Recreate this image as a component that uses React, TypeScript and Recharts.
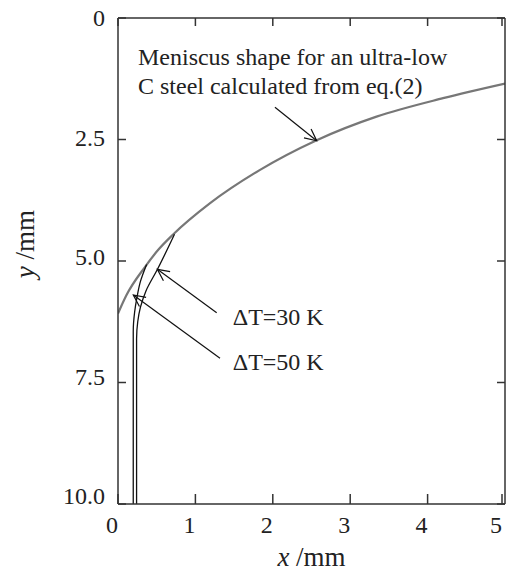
import React from 'react';
import { LineChart, Line, XAxis, YAxis, ReferenceLine, ReferenceDot, Label } from 'recharts';

const FONT = '"Liberation Serif", "Times New Roman", serif';

// Axis ticks
const X_TICKS = [0, 1, 2, 3, 4, 5];
const X_TICK_LABELS = ['0', '1', '2', '3', '4', '5'];
const Y_TICKS = [0, 2.5, 5, 7.5, 10];
const Y_TICK_LABELS = ['0', '2.5', '5.0', '7.5', '10.0'];

// Meniscus shape (eq.(2))
const MENISCUS_X = [0, 0.11, 0.35, 0.52, 0.715, 1.19, 1.83, 2.56, 3.34, 4.2, 5.0];
const MENISCUS_Y = [6.08, 5.7, 5.12, 4.77, 4.45, 3.81, 3.13, 2.52, 2.03, 1.65, 1.35];

// Solidified shell for ΔT = 30 K
const DT30_X = [0.73, 0.51, 0.36, 0.29, 0.255, 0.24, 0.24];
const DT30_Y = [4.45, 5.17, 5.62, 5.95, 6.25, 6.6, 10];

// Solidified shell for ΔT = 50 K
const DT50_X = [0.37, 0.29, 0.245, 0.215, 0.197, 0.197];
const DT50_Y = [5.07, 5.42, 5.75, 6.05, 6.45, 10];

// Annotations (data coordinates)
const NOTE_MENISCUS = ['Meniscus shape for an ultra-low', 'C steel calculated from eq.(2)'];
const NOTE_MENISCUS_POS = { x: 0.258, y: 0.967 };
const ARROW_MENISCUS = [{ x: 2.028, y: 1.837 }, { x: 2.567, y: 2.525 }];
const NOTE_DT30 = 'ΔT=30 K';
const NOTE_DT30_POS = { x: 1.482, y: 6.317 };
const ARROW_DT30 = [{ x: 1.275, y: 6.064 }, { x: 0.508, y: 5.171 }];
const NOTE_DT50 = 'ΔT=50 K';
const NOTE_DT50_POS = { x: 1.482, y: 7.253 };
const ARROW_DT50 = [{ x: 1.318, y: 7.002 }, { x: 0.198, y: 5.7 }];

const toPoints = (xs: number[], ys: number[]) => xs.map((x, i) => ({ x, y: ys[i] }));
const meniscus = toPoints(MENISCUS_X, MENISCUS_Y);
const dt30 = toPoints(DT30_X, DT30_Y);
const dt50 = toPoints(DT50_X, DT50_Y);

const FRAME = '#333';
const TEXT = '#222';

const BottomTick = (p: any) => {
  const { x, y, payload } = p;
  const label = X_TICK_LABELS[X_TICKS.indexOf(payload.value)];
  return (
    <g>
      <line x1={x} y1={y} x2={x} y2={y - 10} stroke={FRAME} strokeWidth={1.5} />
      <text x={x - 6} y={y + 29} textAnchor="middle" fontFamily={FONT} fontSize={24} fill={TEXT}>
        {label}
      </text>
    </g>
  );
};

const TopTick = (p: any) => {
  const { x, y } = p;
  return <line x1={x} y1={y} x2={x} y2={y + 8} stroke={FRAME} strokeWidth={1.5} />;
};

const LeftTick = (p: any) => {
  const { x, y, payload } = p;
  const label = Y_TICK_LABELS[Y_TICKS.indexOf(payload.value)];
  return (
    <g>
      <line x1={x} y1={y} x2={x + 8} y2={y} stroke={FRAME} strokeWidth={1.5} />
      <text x={x - 13} y={y + 8 - 0.8 * payload.value} textAnchor="end" fontFamily={FONT} fontSize={24} fill={TEXT}>
        {label}
      </text>
    </g>
  );
};

const RightTick = (p: any) => {
  const { x, y } = p;
  return <line x1={x} y1={y} x2={x - 8} y2={y} stroke={FRAME} strokeWidth={1.5} />;
};

const Arrow = (p: any) => {
  const { x1, y1, x2, y2 } = p;
  const ang = Math.atan2(y2 - y1, x2 - x1);
  const L = 13;
  const a = 0.45;
  const ax = x2 - L * Math.cos(ang - a);
  const ay = y2 - L * Math.sin(ang - a);
  const bx = x2 - L * Math.cos(ang + a);
  const by = y2 - L * Math.sin(ang + a);
  return (
    <g>
      <line x1={x1} y1={y1} x2={x2} y2={y2} stroke="#111" strokeWidth={1.2} />
      <polyline points={`${ax},${ay} ${x2},${y2} ${bx},${by}`} fill="none" stroke="#111" strokeWidth={1.2} />
    </g>
  );
};

const XTitle = (p: any) => {
  const vb = p.viewBox || { x: 118, y: 504, width: 387, height: 68 };
  return (
    <text x={vb.x + vb.width / 2} y={vb.y + 62} textAnchor="middle" fontFamily={FONT} fontSize={27} fill={TEXT}>
      <tspan fontStyle="italic">x</tspan> /mm
    </text>
  );
};

const YTitle = (p: any) => {
  const vb = p.viewBox || { x: 0, y: 18, width: 118, height: 486 };
  const cx = vb.x + 34;
  const cy = vb.y + vb.height / 2 - 17;
  return (
    <text x={cx} y={cy} transform={`rotate(-90 ${cx} ${cy})`} textAnchor="middle" fontFamily={FONT} fontSize={27} fill={TEXT}>
      <tspan fontStyle="italic">y</tspan> /mm
    </text>
  );
};

export default function App() {
  return (
    <div style={{ width: 506, height: 572 }}>
      <style>{'html,body{margin:0;padding:0;overflow:hidden}'}</style>
      <LineChart width={506} height={572} margin={{ top: 17, right: 0, bottom: 0, left: 0 }}>
        <XAxis
          xAxisId="bottom"
          type="number"
          dataKey="x"
          domain={[0, 5]}
          ticks={X_TICKS}
          allowDataOverflow
          height={68}
          tickSize={0}
          tickMargin={0}
          tickLine={false}
          tick={<BottomTick />}
          axisLine={{ stroke: FRAME, strokeWidth: 1.5 }}
        >
          <Label content={<XTitle />} />
        </XAxis>
        <XAxis
          xAxisId="top"
          orientation="top"
          type="number"
          dataKey="x"
          domain={[0, 5]}
          ticks={X_TICKS}
          allowDataOverflow
          height={1}
          tickSize={0}
          tickMargin={0}
          tickLine={false}
          tick={<TopTick />}
          axisLine={{ stroke: FRAME, strokeWidth: 1.5 }}
        />
        <YAxis
          yAxisId="left"
          type="number"
          dataKey="y"
          domain={[0, 10]}
          reversed
          ticks={Y_TICKS}
          allowDataOverflow
          width={118}
          tickSize={0}
          tickMargin={0}
          tickLine={false}
          tick={<LeftTick />}
          axisLine={{ stroke: FRAME, strokeWidth: 1.5 }}
        >
          <Label content={<YTitle />} />
        </YAxis>
        <YAxis
          yAxisId="right"
          orientation="right"
          type="number"
          dataKey="y"
          domain={[0, 10]}
          reversed
          ticks={Y_TICKS}
          allowDataOverflow
          width={1}
          tickSize={0}
          tickMargin={0}
          tickLine={false}
          tick={<RightTick />}
          axisLine={{ stroke: FRAME, strokeWidth: 1.5 }}
        />
        <Line
          xAxisId="bottom"
          yAxisId="left"
          data={meniscus}
          dataKey="y"
          type="monotone"
          stroke="#777"
          strokeWidth={2.2}
          dot={false}
          activeDot={false}
          isAnimationActive={false}
        />
        <Line
          xAxisId="bottom"
          yAxisId="left"
          data={dt30}
          dataKey="y"
          type="monotoneY"
          stroke="#111"
          strokeWidth={1.3}
          dot={false}
          activeDot={false}
          isAnimationActive={false}
        />
        <Line
          xAxisId="bottom"
          yAxisId="left"
          data={dt50}
          dataKey="y"
          type="monotoneY"
          stroke="#111"
          strokeWidth={1.3}
          dot={false}
          activeDot={false}
          isAnimationActive={false}
        />
        <ReferenceLine xAxisId="bottom" yAxisId="left" segment={ARROW_MENISCUS} shape={Arrow} />
        <ReferenceLine xAxisId="bottom" yAxisId="left" segment={ARROW_DT30} shape={Arrow} />
        <ReferenceLine xAxisId="bottom" yAxisId="left" segment={ARROW_DT50} shape={Arrow} />
        <ReferenceDot
          xAxisId="bottom"
          yAxisId="left"
          x={NOTE_MENISCUS_POS.x}
          y={NOTE_MENISCUS_POS.y}
          ifOverflow="visible"
          shape={(p: any) => (
            <text x={p.cx} y={p.cy} fontFamily={FONT} fontSize={24} fill={TEXT}>
              <tspan x={p.cx}>{NOTE_MENISCUS[0]}</tspan>
              <tspan x={p.cx} dy={29.3}>{NOTE_MENISCUS[1]}</tspan>
            </text>
          )}
        />
        <ReferenceDot
          xAxisId="bottom"
          yAxisId="left"
          x={NOTE_DT30_POS.x}
          y={NOTE_DT30_POS.y}
          ifOverflow="visible"
          shape={(p: any) => (
            <text x={p.cx} y={p.cy} fontFamily={FONT} fontSize={24} fill={TEXT}>
              {NOTE_DT30}
            </text>
          )}
        />
        <ReferenceDot
          xAxisId="bottom"
          yAxisId="left"
          x={NOTE_DT50_POS.x}
          y={NOTE_DT50_POS.y}
          ifOverflow="visible"
          shape={(p: any) => (
            <text x={p.cx} y={p.cy} fontFamily={FONT} fontSize={24} fill={TEXT}>
              {NOTE_DT50}
            </text>
          )}
        />
      </LineChart>
    </div>
  );
}
